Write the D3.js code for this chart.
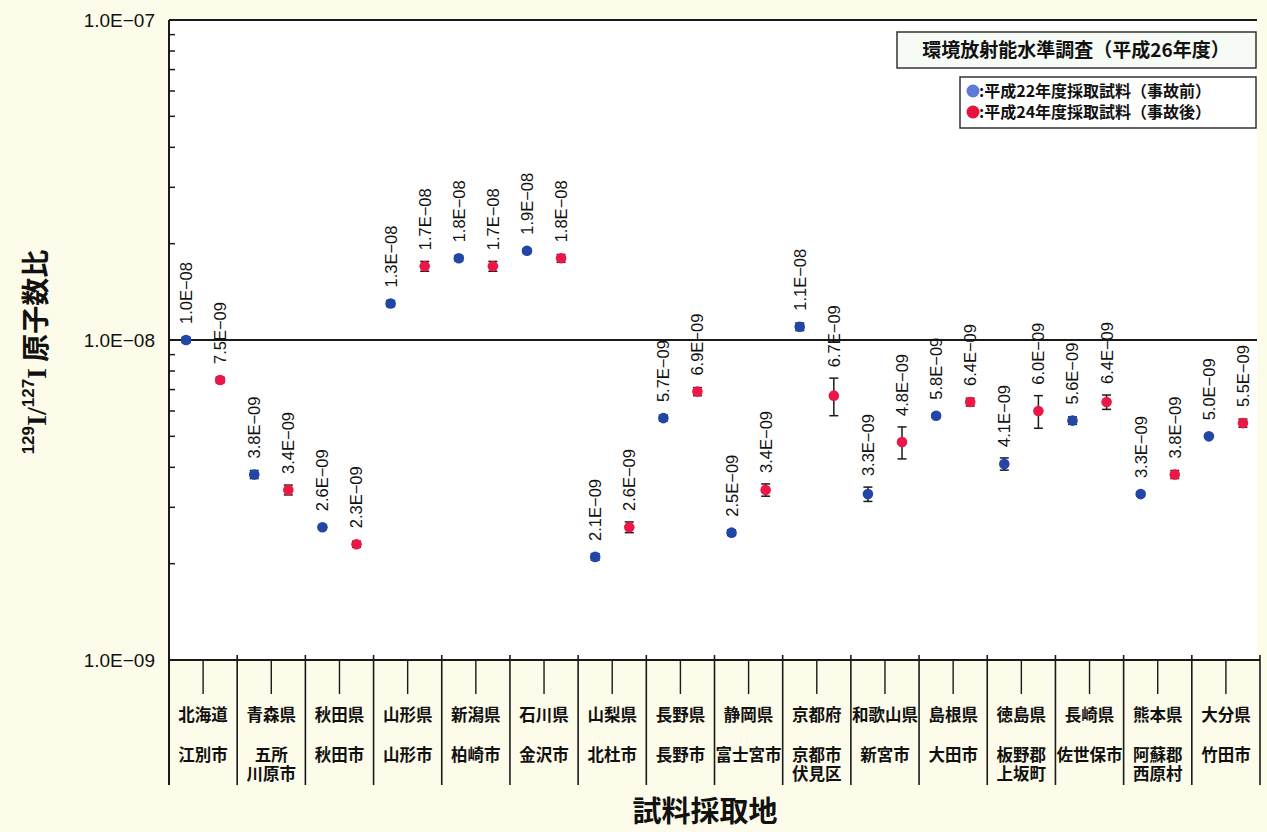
<!DOCTYPE html>
<html>
<head>
<meta charset="utf-8">
<script src="https://cdn.jsdelivr.net/npm/d3@7"></script>
<style>
  html, body { margin: 0; padding: 0; background: #fdfbe9; }
  svg { display: block; }
  .jp { font-family: "Noto Sans CJK JP", "Noto Sans", sans-serif; font-weight: bold; }
  .num { font-family: "Liberation Sans", Arial, sans-serif; }
</style>
</head>
<body>
<svg id="chart" width="1267" height="832"></svg>
<script>
// Sampling sites (prefecture / municipality)
const prefectures = ["北海道","青森県","秋田県","山形県","新潟県","石川県","山梨県","長野県",
                     "静岡県","京都府","和歌山県","島根県","徳島県","長崎県","熊本県","大分県"];
const municipalities = [["江別市"],["五所","川原市"],["秋田市"],["山形市"],["柏崎市"],["金沢市"],
                        ["北杜市"],["長野市"],["富士宮市"],["京都市","伏見区"],["新宮市"],["大田市"],
                        ["板野郡","上坂町"],["佐世保市"],["阿蘇郡","西原村"],["竹田市"]];

// 129I/127I atom ratio — samples taken in FY2010 (before the accident)
const ratioBefore = [1.0e-8, 3.8e-9, 2.6e-9, 1.3e-8, 1.8e-8, 1.9e-8, 2.1e-9, 5.7e-9,
                     2.5e-9, 1.1e-8, 3.3e-9, 5.8e-9, 4.1e-9, 5.6e-9, 3.3e-9, 5.0e-9];
const errBefore   = [0.2e-9, 0.11e-9, 0.04e-9, 0.28e-9, 0.35e-9, 0.25e-9, 0.05e-9, 0.12e-9,
                     0.05e-9, 0.3e-9, 0.17e-9, 0.08e-9, 0.18e-9, 0.15e-9, 0.05e-9, 0.07e-9];
// samples taken in FY2012 (after the accident)
const ratioAfter  = [7.5e-9, 3.4e-9, 2.3e-9, 1.7e-8, 1.7e-8, 1.8e-8, 2.6e-9, 6.9e-9,
                     3.4e-9, 6.7e-9, 4.8e-9, 6.4e-9, 6.0e-9, 6.4e-9, 3.8e-9, 5.5e-9];
const errAfter    = [0.15e-9, 0.12e-9, 0.05e-9, 0.6e-9, 0.6e-9, 0.5e-9, 0.1e-9, 0.2e-9,
                     0.15e-9, 0.9e-9, 0.55e-9, 0.18e-9, 0.7e-9, 0.33e-9, 0.11e-9, 0.16e-9];

const yTickValues = [1e-9, 1e-8, 1e-7];
const seriesNames = ["before", "after"];
const seriesLegend = [":平成22年度採取試料（事故前）", ":平成24年度採取試料（事故後）"];
const chartTitle = "環境放射能水準調査（平成26年度）";

const colors = { before: "#2146a8", after: "#ec1747" };
const legendColors = { before: "#5b7bd6", after: "#e8123f" };

const svg = d3.select("#chart");
const plotLeft = 169, plotRight = 1260, plotTop = 20, plotBottom = 660;

const x = d3.scaleBand().domain(prefectures).range([plotLeft, plotRight]).padding(0);
const xs = d3.scaleBand().domain(seriesNames).range([0, x.bandwidth()]);
const y = d3.scaleLog().domain([1e-9, 1e-7]).range([plotBottom, plotTop]);

// scientific label like 1.0E−08
function sci(v) {
  let e = Math.floor(Math.log10(v) + 1e-9);
  let m = v / Math.pow(10, e);
  if (m >= 9.95) { m /= 10; e += 1; }
  const s = e < 0 ? "−" : "+";
  return m.toFixed(1) + "E" + s + String(Math.abs(e)).padStart(2, "0");
}

// white plotting area
svg.append("rect").attr("x", plotLeft).attr("y", plotTop)
  .attr("width", 1257 - plotLeft).attr("height", plotBottom - plotTop).attr("fill", "#ffffff");

const ink = "#1a1a1a";

// top border and decade gridline
[1e-7, 1e-8].forEach(v => {
  svg.append("line").attr("x1", plotLeft).attr("x2", 1257)
    .attr("y1", y(v)).attr("y2", y(v)).attr("stroke", ink).attr("stroke-width", 2);
});

// left axis, extended down through the site table
svg.append("line").attr("x1", plotLeft).attr("x2", plotLeft).attr("y1", plotTop).attr("y2", 785)
  .attr("stroke", ink).attr("stroke-width", 2);

// minor log ticks (inward)
const minor = [];
[1e-9, 1e-8].forEach(d => { for (let m = 2; m <= 9; m++) minor.push(m * d); });
svg.append("g").selectAll("line").data(minor).join("line")
  .attr("x1", plotLeft).attr("x2", plotLeft + 6)
  .attr("y1", d => y(d)).attr("y2", d => y(d))
  .attr("stroke", ink).attr("stroke-width", 1.5);

// y tick labels
svg.append("g").selectAll("text").data(yTickValues).join("text")
  .attr("class", "num")
  .attr("x", 155).attr("y", d => y(d)).attr("dy", "0.36em")
  .attr("text-anchor", "end").attr("font-size", 19).attr("fill", "#111")
  .text(d => sci(d));

// bottom axis
svg.append("line").attr("x1", plotLeft).attr("x2", plotRight).attr("y1", plotBottom).attr("y2", plotBottom)
  .attr("stroke", ink).attr("stroke-width", 2);

// column separators of the site table
const seps = prefectures.map(p => x(p)).concat([plotRight]);
svg.append("g").selectAll("line").data(seps).join("line")
  .attr("x1", d => d).attr("x2", d => d)
  .attr("y1", plotBottom - 5).attr("y2", 785)
  .attr("stroke", ink).attr("stroke-width", 1.6);

// centre ticks of each site
svg.append("g").selectAll("line").data(prefectures).join("line")
  .attr("x1", d => x(d) + x.bandwidth() / 2).attr("x2", d => x(d) + x.bandwidth() / 2)
  .attr("y1", plotBottom).attr("y2", 694)
  .attr("stroke", ink).attr("stroke-width", 1.4);

// site names (municipality may wrap onto a second line)
const siteG = svg.append("g").attr("class", "jp").attr("font-size", 16.5).attr("fill", "#111")
  .attr("text-anchor", "middle");
prefectures.forEach((p, i) => {
  const cx = x(p) + x.bandwidth() / 2;
  siteG.append("text").attr("x", cx).attr("y", 721).text(p);
  const t = siteG.append("text").attr("x", cx).attr("y", 761);
  municipalities[i].forEach((line, j) => {
    t.append("tspan").attr("x", cx).attr("dy", j === 0 ? 0 : 19).text(line);
  });
});

// data points with error bars and value labels
const series = [
  { key: "before", values: ratioBefore, errs: errBefore },
  { key: "after",  values: ratioAfter,  errs: errAfter }
];
series.forEach(s => {
  const g = svg.append("g");
  prefectures.forEach((p, i) => {
    const v = s.values[i], e = s.errs[i];
    const cx = x(p) + xs(s.key) + xs.bandwidth() / 2;
    const yTop = y(v + e), yBot = y(v - e);
    g.append("line").attr("x1", cx).attr("x2", cx).attr("y1", yTop).attr("y2", yBot)
      .attr("stroke", ink).attr("stroke-width", 1.5);
    [yTop, yBot].forEach(yy => g.append("line")
      .attr("x1", cx - 4.5).attr("x2", cx + 4.5).attr("y1", yy).attr("y2", yy)
      .attr("stroke", ink).attr("stroke-width", 1.5));
    g.append("circle").attr("cx", cx).attr("cy", y(v)).attr("r", 5.3)
      .attr("fill", colors[s.key]);
    const ly = Math.min(yTop, y(v) - 5) - 11;
    g.append("text").attr("class", "num")
      .attr("transform", `translate(${cx},${ly}) rotate(-90)`)
      .attr("dy", "0.36em").attr("font-size", 16.5).attr("fill", "#111")
      .text(sci(v));
  });
});

// title box
svg.append("rect").attr("x", 897).attr("y", 32).attr("width", 359).attr("height", 36)
  .attr("fill", "#f6fbf6").attr("stroke", "#333").attr("stroke-width", 1.5);
svg.append("text").attr("class", "jp").attr("x", 1076).attr("y", 50).attr("dy", "0.36em")
  .attr("text-anchor", "middle").attr("font-size", 19)
  .attr("fill", "#111").text(chartTitle);

// legend
svg.append("rect").attr("x", 960).attr("y", 77).attr("width", 296).attr("height", 51)
  .attr("fill", "#ffffff").attr("stroke", "#333").attr("stroke-width", 1.5);
seriesNames.forEach((k, i) => {
  const ry = 91 + i * 21;
  svg.append("circle").attr("cx", 973).attr("cy", ry).attr("r", 6.5).attr("fill", legendColors[k]);
  svg.append("text").attr("class", "jp").attr("x", 979).attr("y", ry).attr("dy", "0.36em")
    .attr("font-size", 16).attr("fill", "#111").text(seriesLegend[i]);
});

// axis titles
const yTitle = svg.append("text").attr("class", "jp")
  .attr("transform", "translate(46,352) rotate(-90)")
  .attr("text-anchor", "middle").attr("font-size", 28).attr("fill", "#111");
yTitle.append("tspan").attr("font-size", 17).attr("dy", -12).attr("class", "num").attr("font-weight", "bold").text("129");
yTitle.append("tspan").attr("dy", 12).attr("font-family", "Liberation Serif, serif").attr("font-weight", "bold").text("I/");
yTitle.append("tspan").attr("font-size", 17).attr("dy", -12).attr("class", "num").attr("font-weight", "bold").text("127");
yTitle.append("tspan").attr("dy", 12).attr("font-family", "Liberation Serif, serif").attr("font-weight", "bold").text("I");
yTitle.append("tspan").text(" 原子数比");

svg.append("text").attr("class", "jp").attr("x", 705).attr("y", 822)
  .attr("text-anchor", "middle").attr("font-size", 29).attr("fill", "#111").text("試料採取地");
</script>
</body>
</html>
